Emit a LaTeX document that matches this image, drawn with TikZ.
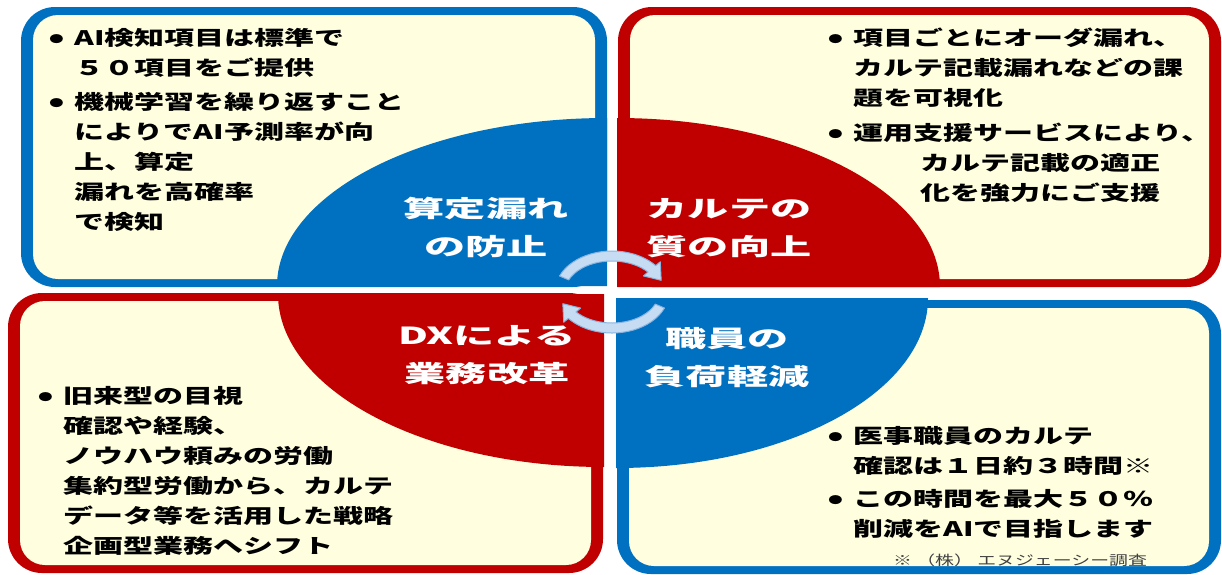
\documentclass[tikz,border=0pt]{standalone}
\usepackage{graphicx}
\usepackage{fontspec}
\newfontfamily\jp{Noto Sans CJK JP}
\definecolor{qblue}{HTML}{0070C0}
\definecolor{qred}{HTML}{C00000}
\definecolor{cream}{HTML}{FFFFE0}
\definecolor{arwfill}{HTML}{C5DCF3}
\definecolor{arwedge}{HTML}{8AB4E0}
\definecolor{notegray}{HTML}{404040}
\newcommand\stretchx[1]{\scalebox{1.5}[1]{#1}}
\newcommand\stretcht[1]{\scalebox{1.75}[1]{#1}}
\newcommand\bul{\makebox[17.5pt][l]{\raisebox{-2.9pt}{\scalebox{1.4}{•}}}}
\tikzset{
  bodytext/.style={inner sep=0pt, anchor=base west, text=black,
    font=\jp\bfseries\fontsize{20}{30}\selectfont},
  titletext/.style={inner sep=0pt, anchor=base, text=white,
    font=\jp\bfseries\fontsize{23.5}{38}\selectfont},
  notetext/.style={inner sep=0pt, anchor=base west, text=notegray,
    font=\jp\fontsize{13.5}{15}\selectfont},
  arrowband/.style={fill=arwfill, draw=arwedge, line width=1pt, line join=round},
}
\begin{document}
\begin{tikzpicture}[x=1pt,y=-1pt]
\useasboundingbox (0,0) rectangle (1222,574);
% ---- boxes ----
\fill[qblue, rounded corners=34] (21,7) rectangle (607,287);
\fill[cream, rounded corners=25] (33,15) rectangle (595,279);
\fill[qred, rounded corners=34] (618,7) rectangle (1221,287);
\fill[cream, rounded corners=25] (630,15) rectangle (1209,279);
\fill[qred, rounded corners=34] (8,293) rectangle (603,573);
\fill[cream, rounded corners=25] (20,301) rectangle (591,565);
\fill[qblue, rounded corners=34] (617,300) rectangle (1221,574);
\fill[cream, rounded corners=25] (629,308) rectangle (1209,566);
% ---- quadrants ----
\fill[qblue] (607,286) -- (277,286) arc[start angle=180, end angle=270, x radius=330, y radius=168] -- cycle;
\fill[qred] (617,287) -- (617,118) arc[start angle=270, end angle=360, x radius=323, y radius=169] -- cycle;
\fill[qred] (604,294) -- (278,294) arc[start angle=180, end angle=90, x radius=326, y radius=173] -- cycle;
\fill[qblue] (616,298) -- (928,298) arc[start angle=0, end angle=90, x radius=312, y radius=170] -- cycle;
% ---- cycle arrows ----
\begin{scope}[shift={(612,292)}]
\filldraw[arrowband] (203:57 and 41) arc[start angle=203, end angle=320, x radius=57, y radius=41]
  -- (320:63 and 47) -- (341:52 and 36) -- (320:41 and 25) -- (320:47 and 31)
  arc[start angle=320, end angle=203, x radius=47, y radius=31] -- cycle;
\filldraw[arrowband] (23:57 and 41) arc[start angle=23, end angle=140, x radius=57, y radius=41]
  -- (140:63 and 47) -- (161:52 and 36) -- (140:41 and 25) -- (140:47 and 31)
  arc[start angle=140, end angle=23, x radius=47, y radius=31] -- cycle;
\end{scope}
% ---- titles ----
\node[titletext] (t1) at (486,217) {\stretcht{\begin{tabular}[t]{@{}c@{}}算定漏れ\\の防止\end{tabular}}};
\node[titletext] (t2) at (729,217) {\stretcht{\begin{tabular}[t]{@{}c@{}}カルテの\\質の向上\end{tabular}}};
\node[titletext] (t3) at (487,344) {\stretcht{\begin{tabular}[t]{@{}c@{}}DXによる\\業務改革\end{tabular}}};
\node[titletext] (t4) at (727,347) {\stretcht{\begin{tabular}[t]{@{}c@{}}職員の\\負荷軽減\end{tabular}}};
% ---- body texts ----
\node[bodytext] (b1) at (48,45) {\stretchx{\begin{tabular}[t]{@{}l@{}l@{}}
\bul & AI検知項目は標準で\\
 & ５０項目をご提供\\[4pt]
\bul & 機械学習を繰り返すこと\\
 & によりでAI予測率が向\\
 & 上、算定\\
 & 漏れを高確率\\
 & で検知
\end{tabular}}};
\node[bodytext] (b2) at (827,45) {\stretchx{\begin{tabular}[t]{@{}l@{}l@{}}
\bul & 項目ごとにオーダ漏れ、\\
 & カルテ記載漏れなどの課\\
 & 題を可視化\\[5pt]
\bul & 運用支援サービスにより、\\
 & \hspace{45pt}カルテ記載の適正\\
 & \hspace{45pt}化を強力にご支援
\end{tabular}}};
\node[bodytext] (b3) at (37,403) {\stretchx{\begin{tabular}[t]{@{}l@{}l@{}}
\bul & 旧来型の目視\\
 & 確認や経験、\\
 & ノウハウ頼みの労働\\
 & 集約型労働から、カルテ\\
 & データ等を活用した戦略\\
 & 企画型業務へシフト
\end{tabular}}};
\node[bodytext] (b4) at (827,443) {\stretchx{\begin{tabular}[t]{@{}l@{}l@{}}
\bul & 医事職員のカルテ\\
 & 確認は１日約３時間※\\[3pt]
\bul & この時間を最大５０％\\
 & 削減をAIで目指します
\end{tabular}}};
\node[notetext] (note) at (893,565) {\scalebox{1.4}[1]{※ （株） エヌジェーシー調査}};
\end{tikzpicture}
\end{document}
